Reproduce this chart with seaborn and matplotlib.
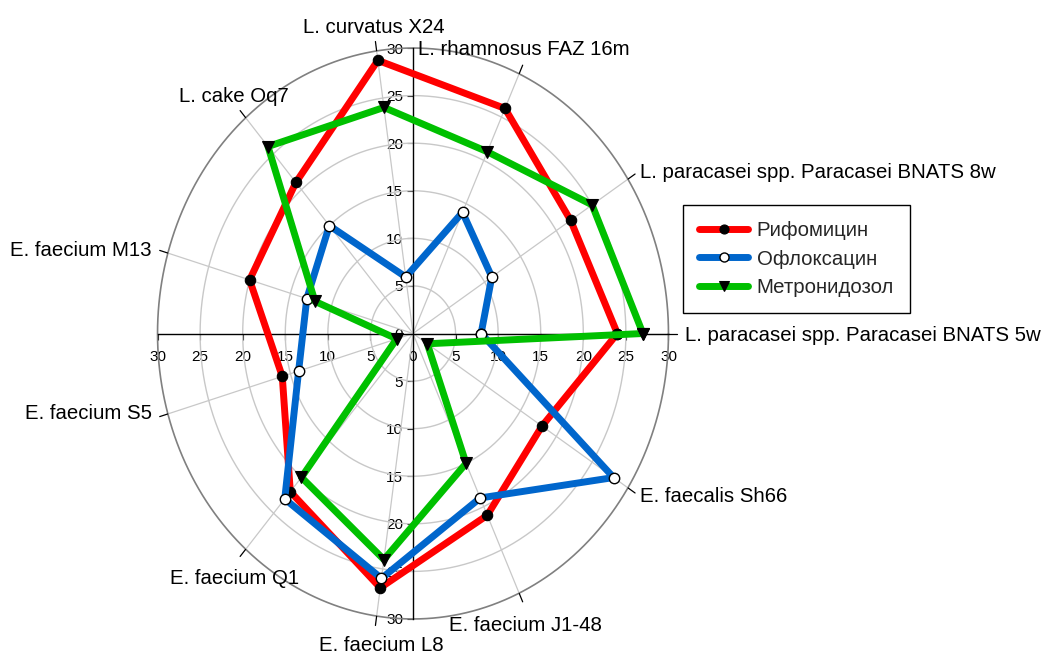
import numpy as np
import pandas as pd
import matplotlib
matplotlib.use("Agg")
import matplotlib.pyplot as plt
from matplotlib.lines import Line2D
import seaborn as sns

# ---------------- data ----------------
categories = [
    "L. paracasei spp. Paracasei BNATS 5w",
    "L. paracasei spp. Paracasei BNATS 8w",
    "L. rhamnosus FAZ 16m",
    "L. curvatus X24",
    "L. cake Oq7",
    "E. faecium M13",
    "E. faecium S5",
    "E. faecium Q1",
    "E. faecium L8",
    "E. faecium J1-48",
    "E. faecalis Sh66",
]
rifomycin = [24, 22, 26, 29, 21, 20, 16, 22, 27, 21, 18]
ofloxacin = [8, 11, 14, 6, 15, 13, 14, 23, 26, 19, 28]
metronidazole = [27, 25, 21, 24, 26, 12, 2, 20, 24, 15, 2]
series_names = ["Рифомицин", "Офлоксацин", "Метронидозол"]
radial_ticks = [5, 10, 15, 20, 25, 30]
axis_ticks = [-30, -25, -20, -15, -10, -5, 0, 5, 10, 15, 20, 25, 30]

# ---------------- style ----------------
sns.set_style("white")
plt.rcParams["font.family"] = ["Liberation Sans", "DejaVu Sans"]

fig = plt.figure(figsize=(10.44, 6.57), dpi=100)
ax = fig.add_axes([140.5 / 1044, 19 / 657, 545 / 1044, 609 / 657])
ax.set_xlim(-32, 32)
ax.set_ylim(-32, 32)

n = len(categories)
theta = np.arange(n) * 2 * np.pi / n
rmax = radial_ticks[-1]

# grid circles
t = np.linspace(0, 2 * np.pi, 721)
for r in radial_ticks:
    if r == rmax:
        ax.plot(r * np.cos(t), r * np.sin(t), color="#808080", lw=1.2, zorder=1)
    else:
        ax.plot(r * np.cos(t), r * np.sin(t), color="#c8c8c8", lw=1.0, zorder=1)

# spokes
for th in theta:
    ax.plot([0, rmax * np.cos(th)], [0, rmax * np.sin(th)], color="#c8c8c8", lw=0.9, zorder=1)
    ax.plot([rmax * np.cos(th), 31.0 * np.cos(th)], [rmax * np.sin(th), 31.0 * np.sin(th)],
            color="black", lw=0.9, zorder=1)

# cross axes
for s in ["top", "right"]:
    ax.spines[s].set_visible(False)
ax.spines["left"].set_position(("data", 0))
ax.spines["bottom"].set_position(("data", 0))
ax.spines["left"].set_bounds(-30, 30)
ax.spines["bottom"].set_bounds(-30, 30)
for s in ["left", "bottom"]:
    ax.spines[s].set_color("black")
    ax.spines[s].set_linewidth(1.0)
    ax.spines[s].set_zorder(2)
ax.set_xticks(axis_ticks)
ax.set_yticks(axis_ticks)
ax.set_xticklabels([str(abs(v)) for v in axis_ticks])
ax.set_yticklabels([str(abs(v)) for v in axis_ticks])
ax.tick_params(axis="x", direction="out", length=4, width=0.8, pad=8, labelsize=11,
               bottom=True, colors="black")
ax.tick_params(axis="y", direction="out", length=4, width=0.8, pad=3, labelsize=11,
               left=True, colors="black")

# ---------------- series ----------------
colors = ["#ff0000", "#0066cc", "#00c000"]
marker_styles = [
    dict(marker="o", markersize=7.5, markerfacecolor="black", markeredgecolor="black", markeredgewidth=0.8),
    dict(marker="o", markersize=7.5, markerfacecolor="white", markeredgecolor="black", markeredgewidth=1.0),
    dict(marker="v", markersize=8.5, markerfacecolor="black", markeredgecolor="black", markeredgewidth=0.8),
]
all_series = [rifomycin, ofloxacin, metronidazole]

for k, (vals, name) in enumerate(zip(all_series, series_names)):
    vv = np.array(vals + [vals[0]], dtype=float)
    tt = np.append(theta, theta[0])
    df = pd.DataFrame({"x": vv * np.cos(tt), "y": vv * np.sin(tt)})
    sns.lineplot(data=df, x="x", y="y", sort=False, estimator=None, color=colors[k],
                 lw=5, ax=ax, zorder=4 + k, legend=False, **marker_styles[k])

ax.set_xlabel("")
ax.set_ylabel("")

# ---------------- category labels ----------------
label_offsets = [(17, -2), (12, 7), (5, 24), (-3, 23), (-12, 21), (-16, 3),
                 (-16, 0), (-11, -29), (5, -29), (6, -32), (12, -9)]
label_ha = ["left", "left", "center", "center", "center", "right",
            "right", "center", "center", "center", "left"]
for th, lab, off, ha in zip(theta, categories, label_offsets, label_ha):
    ax.annotate(lab, xy=(rmax * np.cos(th), rmax * np.sin(th)), xytext=off,
                textcoords="offset pixels", ha=ha, va="center", fontsize=14.7,
                color="black", annotation_clip=False)

# ---------------- legend ----------------
handles = [Line2D([0], [0], color=colors[k], lw=5, **marker_styles[k]) for k in range(3)]
for h in handles:
    h.set_markersize(6.5)
leg = fig.legend(handles, series_names, loc="upper left",
                 bbox_to_anchor=(683 / 1044, 1 - 205 / 657), fontsize=14.7,
                 frameon=True, fancybox=False, edgecolor="black", framealpha=1,
                 handlelength=2.4, handletextpad=0.4, labelspacing=0.45,
                 borderpad=0.8, borderaxespad=0)
leg.get_frame().set_linewidth(1.0)

fig.savefig("out.png", dpi=100)
